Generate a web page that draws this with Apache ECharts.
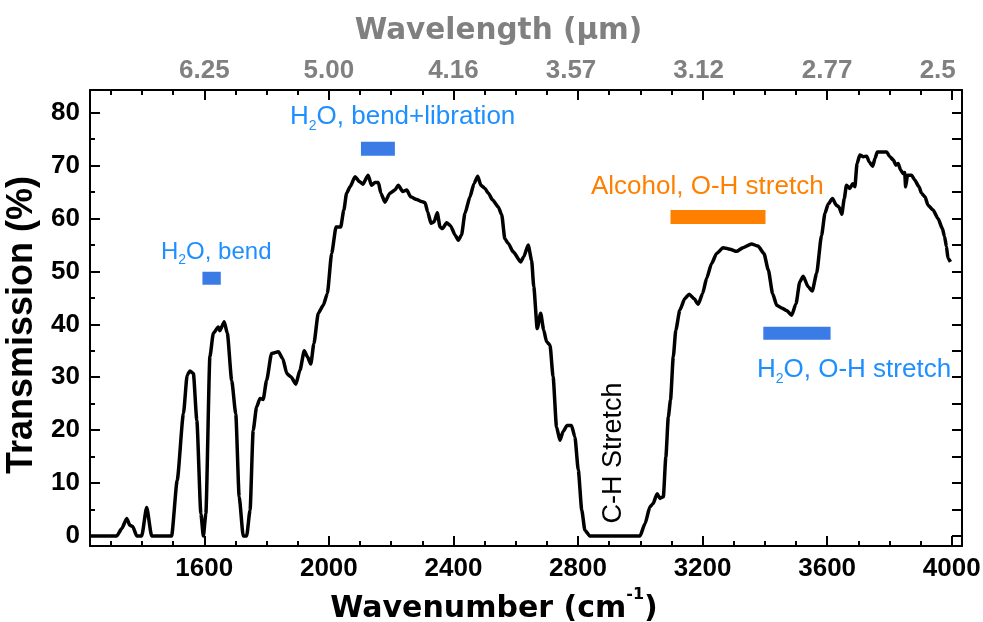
<!DOCTYPE html>
<html>
<head>
<meta charset="utf-8">
<script src="https://cdn.jsdelivr.net/npm/echarts@6/dist/echarts.min.js"></script>
<style>html,body{margin:0;padding:0;background:#fff}#c{width:983px;height:622px}</style>
</head>
<body>
<div id="c"></div>
<script>
// ---------- data ----------
const wavenumber = [1233,1319,1335,1351,1361,1370,1383,1399,1415,1431,1495,1513,1533,1545,1554,1565,1576,1589,1597,1605,
1618,1629,1645,1650,1664,1674,1688,1701,1712,1725,1736,1747,1757,1768,1779,1789,1800,1816,1838,1852,
1865,1878,1894,1907,1921,1931,1942,1952,1966,1982,1995,2009,2023,2038,2048,2057,2068,2084,2098,2109,
2126,2137,2148,2159,2167,2180,2196,2212,2223,2237,2250,2263,2282,2298,2309,2317,2328,2338,2348,2357,
2365,2378,2391,2405,2416,2426,2437,2453,2466,2478,2488,2501,2512,2526,2544,2555,2565,2576,2592,2616,
2626,2640,2651,2658,2669,2680,2690,2699,2710,2720,2731,2742,2752,2765,2779,2790,2801,2812,2822,2838,
2999,3015,3031,3041,3054,3063,3074,3082,3090,3097,3106,3114,3127,3143,3157,3172,3186,3200,3213,3229,
3245,3266,3288,3309,3330,3357,3378,3397,3411,3425,3438,3454,3470,3486,3500,3512,3523,3539,3552,3566,
3582,3593,3603,3617,3630,3638,3647,3655,3662,3673,3682,3689,3696,3705,3716,3727,3735,3746,3754,3761,
3775,3791,3801,3812,3821,3828,3836,3844,3849,3852,3858,3871,3881,3895,3903,3914,3924,3940,3956,3970,
3977,3983,3988,3996];
const transmission = [0,0,1.4,3.3,2.0,1.8,0,0,5.4,0,0,10.5,23.1,30.4,31.2,30.7,21.9,4.2,0,4.2,
33.9,38.3,39.5,38.8,40.5,38.3,29.4,23.1,7.4,0,0,4.9,20.0,24.4,26.0,25.8,29.4,34.5,34.8,33.5,
30.7,30.1,28.7,31.3,35.0,33.9,32.5,36.4,42.1,43.6,45.8,53.4,58.4,58.4,61.6,64.8,66.0,67.9,67.0,66.5,
68.2,66.3,66.8,66.8,64.8,63.1,64.8,65.4,66.3,65.1,65.4,64.1,63.6,63.2,63.0,61.3,59.1,59.4,61.1,58.4,
58.1,59.2,58.6,56.9,55.9,56.9,61.0,64.1,66.6,68.0,66.3,65.7,64.8,63.5,62.2,60.7,56.2,55.3,53.7,51.8,
52.8,55.0,52.1,47.1,39.2,42.1,38.9,36.7,36.1,30.1,20.6,18.1,19.7,20.9,20.9,18.7,12.4,4.9,1.1,0,
0,2.3,5.5,6.1,8.0,7.1,7.4,14.9,22.5,25.7,33.9,38.9,42.7,44.9,45.7,44.9,43.8,45.8,48.7,51.5,
53.4,54.5,54.2,53.8,54.5,55.2,54.8,53.4,50.3,45.8,43.6,43.1,42.6,41.7,43.9,48.0,49.1,47.1,46.3,49.6,
56.8,61.0,62.7,63.8,62.5,62.2,60.8,63.8,66.3,65.7,66.6,66.0,70.4,72.0,71.7,71.8,70.7,69.9,71.4,72.6,
72.6,72.6,71.7,71.1,70.1,70.4,69.2,68.5,68.7,66.0,68.2,68.2,67.3,66.0,64.8,64.1,62.5,61.6,60.0,58.1,
56.6,54.7,52.5,51.8];

const majorTicksX = [1600,2000,2400,2800,3200,3600,4000];
const minorTicksX = [1300,1400,1500,1700,1800,1900,2100,2200,2300,2500,2600,2700,2900,3000,3100,3300,3400,3500,3700,3800,3900];
const wavelengthLabels = ['6.25','5.00','4.16','3.57','3.12','2.77','2.5'];
const majorTicksY = [0,10,20,30,40,50,60,70,80];
const minorTicksY = [5,15,25,35,45,55,65,75];
const rightTicksY = [0,5,10,15,20,25,30,35,40,45,50,55,60,65,70,75,80];

// assignment bands (start, end wavenumber, transmission level)
const bandNames = ['H2O, bend','H2O, bend+libration','Alcohol, O-H stretch','H2O, O-H stretch'];
const bandStart = [1594,2103,3097,3395];
const bandEnd = [1653,2212,3402,3611];
const bandLevel = [48.7,73.2,60.3,38.3];

// ---------- styles ----------
const FONT = "'Liberation Sans', Arial, Helvetica, sans-serif";
const TITLE_FONT = "'DejaVu Sans', 'Liberation Sans', Arial, sans-serif";
const BLUE_BAR = '#3B7BE6';
const BLUE_TXT = '#1E8FFF';
const ORANGE = '#FF8000';
const bandColors = [BLUE_BAR, BLUE_BAR, ORANGE, BLUE_BAR];
const bandWidths = [13, 14, 14, 13];
const topLabelShift = [0,0,0,14,8,0,28]; // right padding (px) to nudge some top labels left
const X_MIN = 1233, X_MAX = 4033, Y_MIN = -1.9, Y_MAX = 84.3;

const tickStyle = {color:'#000', width:2};

const chart = echarts.init(document.getElementById('c'), null, {renderer:'canvas'});

const xAxisBase = {type:'value', min:X_MIN, max:X_MAX, splitLine:{show:false}};
const yAxisBase = {type:'value', min:Y_MIN, max:Y_MAX, splitLine:{show:false}};

const series = [{
  type:'line', name:'Transmission', xAxisIndex:0, yAxisIndex:0,
  data: wavenumber.map((w,i)=>[w, transmission[i]]),
  showSymbol:false, symbol:'none', smooth:0.2, smoothMonotone:'x',
  lineStyle:{color:'#000', width:3.5}, z:5
}];
bandNames.forEach((n,i)=>{
  series.push({
    type:'line', name:n, xAxisIndex:0, yAxisIndex:0,
    data:[[bandStart[i], bandLevel[i]],[bandEnd[i], bandLevel[i]]],
    showSymbol:false, symbol:'none',
    lineStyle:{color:bandColors[i], width:bandWidths[i], cap:'butt'}, z:4
  });
});

function h2oRich(size, subPad, color){
  return {
    n:{fontSize:size, lineHeight:size, verticalAlign:'top', fill:color, fontFamily:FONT},
    s:{fontSize:14, lineHeight:14, verticalAlign:'top', padding:[subPad,0,0,0], fill:color, fontFamily:FONT}
  };
}

const topRich = {};
topLabelShift.forEach((p,i)=>{ topRich['t'+i] = {padding:[0,p,0,0], fontSize:26, fontWeight:'bold', color:'#808080', fontFamily:FONT}; });

const option = {
  animation:false,
  backgroundColor:'#fff',
  grid:{left:90, right:21, top:90, bottom:76, containLabel:false, outerBoundsMode:'none'},
  xAxis:[
    Object.assign({}, xAxisBase, {
      position:'bottom',
      axisLine:{show:true, onZero:false, lineStyle:tickStyle},
      axisTick:{show:true, inside:true, length:10, customValues:majorTicksX, lineStyle:tickStyle},
      axisLabel:{show:true, customValues:majorTicksX, margin:10, color:'#000', fontSize:26, fontWeight:'bold', fontFamily:FONT,
        formatter:(v)=>String(Math.round(v))},
      name:'{m|Wavenumber (cm}{sup|-1}{m|)}', nameLocation:'middle', nameGap:34,
      nameTextStyle:{padding:[0,64,0,0], rich:{
        m:{fontSize:30, fontWeight:'bold', color:'#000', fontFamily:TITLE_FONT, lineHeight:44, verticalAlign:'middle'},
        sup:{fontSize:16, fontWeight:'bold', color:'#000', fontFamily:TITLE_FONT, lineHeight:16, verticalAlign:'top'}
      }}
    }),
    Object.assign({}, xAxisBase, {
      position:'bottom',
      axisLine:{show:false, onZero:false},
      axisTick:{show:true, inside:true, length:5, customValues:minorTicksX, lineStyle:tickStyle},
      axisLabel:{show:false}
    }),
    Object.assign({}, xAxisBase, {
      position:'top',
      axisLine:{show:true, onZero:false, lineStyle:tickStyle},
      axisTick:{show:true, inside:true, length:10, customValues:majorTicksX, lineStyle:tickStyle},
      axisLabel:{show:true, customValues:majorTicksX, margin:6, color:'#808080', fontSize:26, fontWeight:'bold', fontFamily:FONT,
        rich:topRich,
        formatter:(v)=>{const i = majorTicksX.indexOf(Math.round(v)); return i>=0 ? '{t'+i+'|'+wavelengthLabels[i]+'}' : '';}},
      name:'Wavelength (µm)', nameLocation:'middle', nameGap:44,
      nameTextStyle:{fontSize:29.5, fontWeight:'bold', color:'#808080', fontFamily:TITLE_FONT, padding:[0,55,0,0]}
    }),
    Object.assign({}, xAxisBase, {
      position:'top',
      axisLine:{show:false, onZero:false},
      axisTick:{show:true, inside:true, length:5, customValues:minorTicksX, lineStyle:tickStyle},
      axisLabel:{show:false}
    })
  ],
  yAxis:[
    Object.assign({}, yAxisBase, {
      position:'left',
      axisLine:{show:true, onZero:false, lineStyle:tickStyle},
      axisTick:{show:true, inside:true, length:10, customValues:majorTicksY, lineStyle:tickStyle},
      axisLabel:{show:true, customValues:majorTicksY, margin:10, color:'#000', fontSize:26, fontWeight:'bold', fontFamily:FONT,
        formatter:(v)=>String(Math.round(v))},
      name:'Transmission (%)', nameLocation:'middle', nameGap:38, nameRotate:90,
      nameTextStyle:{fontSize:36, fontWeight:'bold', color:'#000', fontFamily:FONT, padding:[0,14,0,0]}
    }),
    Object.assign({}, yAxisBase, {
      position:'left',
      axisLine:{show:false, onZero:false},
      axisTick:{show:true, inside:true, length:5, customValues:minorTicksY, lineStyle:tickStyle},
      axisLabel:{show:false}
    }),
    Object.assign({}, yAxisBase, {
      position:'right',
      axisLine:{show:true, onZero:false, lineStyle:tickStyle},
      axisTick:{show:true, inside:true, length:10, customValues:rightTicksY, lineStyle:tickStyle},
      axisLabel:{show:false}
    })
  ],
  series: series,
  graphic:[
    {type:'text', x:161, y:240, silent:true, style:{text:'{n|H}{s|2}{n|O, bend}', rich:h2oRich(24,13,BLUE_TXT), fill:BLUE_TXT, verticalAlign:'top'}},
    {type:'text', x:290, y:104, silent:true, style:{text:'{n|H}{s|2}{n|O, bend+libration}', rich:h2oRich(26,15,BLUE_TXT), fill:BLUE_TXT, verticalAlign:'top'}},
    {type:'text', x:591, y:174, silent:true, style:{text:'Alcohol, O-H stretch', fontSize:26, fontFamily:FONT, fill:ORANGE, verticalAlign:'top'}},
    {type:'text', x:757, y:357, silent:true, style:{text:'{n|H}{s|2}{n|O, O-H stretch}', rich:h2oRich(26,15,BLUE_TXT), fill:BLUE_TXT, verticalAlign:'top'}},
    {type:'text', x:614, y:453, rotation:Math.PI/2, silent:true, style:{text:'C-H Stretch', fontSize:27, fontFamily:FONT, fill:'#000', align:'center', verticalAlign:'middle'}}
  ]
};
chart.setOption(option);
</script>
</body>
</html>
